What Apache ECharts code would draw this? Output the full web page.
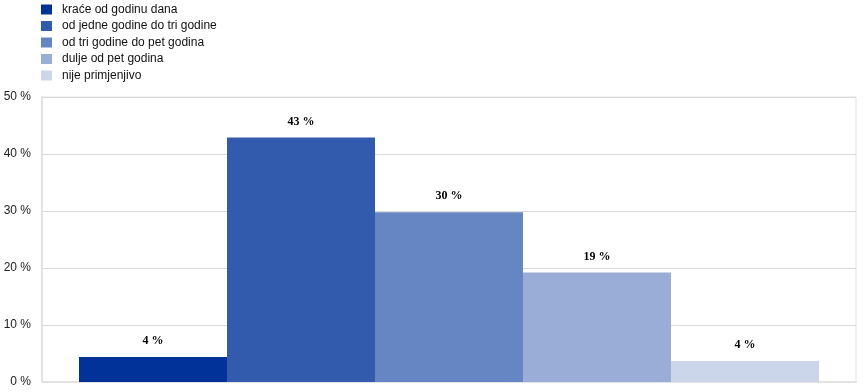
<!DOCTYPE html>
<html>
<head>
<meta charset="utf-8">
<script src="https://cdn.jsdelivr.net/npm/echarts@6/dist/echarts.min.js"></script>
<style>html,body{margin:0;padding:0;background:#fff;}#c{width:868px;height:392px;}</style>
</head>
<body>
<div id="c"></div>
<script>
var seriesNames = ['kraće od godinu dana', 'od jedne godine do tri godine', 'od tri godine do pet godina', 'dulje od pet godina', 'nije primjenjivo'];
var seriesValues = [4.4, 42.9, 29.8, 19.2, 3.7];
var seriesColors = ['#003299', '#335bad', '#6685c3', '#99add6', '#ccd6ea'];
var categories = [''];
var yTicks = [0, 10, 20, 30, 40, 50];

var chart = echarts.init(document.getElementById('c'), null, {renderer: 'canvas'});
var series = seriesNames.map(function (n, i) {
  return {
    name: n,
    type: 'bar',
    data: [seriesValues[i]],
    barWidth: 148,
    barGap: '0%',
    itemStyle: {color: seriesColors[i]},
    label: {
      show: true,
      position: 'top',
      distance: 10,
      formatter: function (p) { return Math.round(p.value) + ' %'; },
      fontFamily: 'Liberation Serif',
      fontWeight: 'bold',
      fontSize: 12,
      color: '#000'
    },
    animation: false
  };
});
chart.setOption({
  animation: false,
  legend: {
    orient: 'vertical',
    left: 41,
    top: 3.5,
    padding: 0,
    itemWidth: 11,
    itemHeight: 10,
    itemGap: 4.5,
    icon: 'rect',
    data: seriesNames,
    textStyle: {fontFamily: 'Liberation Sans', fontSize: 12, color: '#111', padding: [0, 0, 0, 5]}
  },
  grid: {left: 42, right: 12, top: 97, bottom: 10, show: true, borderColor: '#e3e3e3', borderWidth: 1},
  xAxis: {
    type: 'category',
    data: categories,
    axisTick: {show: false},
    axisLabel: {show: false},
    axisLine: {show: true, lineStyle: {color: '#e3e3e3', width: 2}}
  },
  yAxis: {
    type: 'value',
    min: yTicks[0],
    max: yTicks[yTicks.length - 1],
    interval: 10,
    axisLine: {show: true, lineStyle: {color: '#e3e3e3', width: 2}},
    axisTick: {show: false},
    splitLine: {lineStyle: {color: '#d9d9d9', width: 1}},
    axisLabel: {
      formatter: function (v) { return v + ' %'; },
      fontFamily: 'Liberation Sans',
      fontSize: 12,
      color: '#222',
      margin: 11,
      padding: [5, 0, 0, 0]
    }
  },
  series: series
});
</script>
</body>
</html>
